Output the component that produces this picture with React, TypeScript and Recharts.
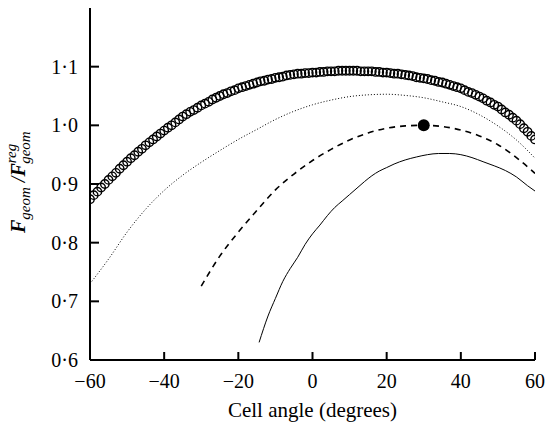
import { ComposedChart, Line, Scatter, XAxis, YAxis } from "recharts"

const FONT = '"Liberation Serif", "Times New Roman", serif'

const xTicks = [-60, -40, -20, 0, 20, 40, 60]
const yTicks = [0.6, 0.7, 0.8, 0.9, 1.0, 1.1]

// open circles, one every degree from -60 to 60
const circleStart = -60
const circleValues = [
  0.874, 0.881, 0.887, 0.894, 0.9, 0.907,
  0.913, 0.919, 0.926, 0.932, 0.938,
  0.944, 0.949, 0.955, 0.96, 0.966,
  0.971, 0.976, 0.981, 0.986, 0.991,
  0.996, 1.0, 1.005, 1.01, 1.015,
  1.019, 1.023, 1.026, 1.03, 1.034,
  1.037, 1.04, 1.044, 1.047, 1.05,
  1.053, 1.055, 1.058, 1.06, 1.063,
  1.065, 1.067, 1.069, 1.071, 1.073,
  1.075, 1.076, 1.078, 1.079, 1.081,
  1.082, 1.083, 1.085, 1.086, 1.087,
  1.088, 1.088, 1.089, 1.089, 1.09,
  1.09, 1.091, 1.091, 1.092, 1.092,
  1.092, 1.093, 1.093, 1.093, 1.093,
  1.093, 1.093, 1.092, 1.092, 1.092,
  1.092, 1.091, 1.091, 1.09, 1.09,
  1.089, 1.088, 1.088, 1.087, 1.086,
  1.085, 1.084, 1.082, 1.081, 1.08,
  1.079, 1.077, 1.076, 1.074, 1.073,
  1.071, 1.069, 1.067, 1.065, 1.063,
  1.06, 1.057, 1.055, 1.052, 1.049,
  1.046, 1.042, 1.039, 1.035, 1.032,
  1.027, 1.022, 1.018, 1.013, 1.008,
  1.002, 0.995, 0.989, 0.982, 0.976,
]

const dottedAngles = [-60, -55, -50, -45, -40, -35, -30, -25, -20, -15, -10, -5, 0, 5, 10, 15, 20, 25, 30, 35, 40, 45, 50, 55, 60]
const dottedValues = [0.73, 0.772, 0.818, 0.857, 0.889, 0.915, 0.937, 0.957, 0.976, 0.993, 1.01, 1.024, 1.035, 1.043, 1.049, 1.052, 1.053, 1.051, 1.047, 1.04, 1.032, 1.018, 0.999, 0.975, 0.944]

const dashedAngles = [-30, -25, -20, -15, -10, -5, 0, 5, 10, 15, 20, 25, 30, 35, 40, 45, 50, 55, 60]
const dashedValues = [0.726, 0.777, 0.818, 0.855, 0.89, 0.917, 0.94, 0.959, 0.975, 0.987, 0.995, 0.999, 1.0, 0.998, 0.992, 0.982, 0.967, 0.945, 0.918]

const solidAngles = [-14.4, -12, -10, -8, -6, -4, -2, 0, 2, 4, 6, 8, 10, 12, 14, 16, 18, 20, 22, 25, 28, 31, 34, 37, 40, 43, 46, 49, 52, 55, 58, 60]
const solidValues = [0.63, 0.675, 0.705, 0.734, 0.756, 0.775, 0.797, 0.815, 0.83, 0.846, 0.86, 0.871, 0.882, 0.893, 0.904, 0.914, 0.922, 0.928, 0.934, 0.941, 0.946, 0.95, 0.952, 0.952, 0.95, 0.945, 0.938, 0.931, 0.923, 0.912, 0.897, 0.888]

const markerAngle = [30]
const markerValue = [1.0]

const zip = (xs: number[], ys: number[]) => xs.map((x, i) => ({ x, y: ys[i] }))

const circleData = circleValues.map((y, i) => ({ x: circleStart + i, y }))
const dottedData = zip(dottedAngles, dottedValues)
const dashedData = zip(dashedAngles, dashedValues)
const solidData = zip(solidAngles, solidValues)
const markerData = zip(markerAngle, markerValue)

const fmtX = (v: number) => (v < 0 ? "\u2212" + Math.abs(v) : String(v))
const fmtY = (v: number) => v.toFixed(1).replace(".", "\u00b7")

// ticks point into the plot, so draw line + label together
function BottomTick(p: any) {
  const base = p.y - 14
  return (
    <g>
      <line x1={p.x} x2={p.x} y1={base} y2={base - 8} stroke="#000" strokeWidth={2} />
      <text x={p.x} y={p.y} dy="0.71em" textAnchor="middle" fontSize={20} fontFamily={FONT} fill="#000">
        {fmtX(p.payload.value)}
      </text>
    </g>
  )
}

function LeftTick(p: any) {
  const base = p.x + 12
  return (
    <g>
      <line x1={base} x2={base + 9} y1={p.y} y2={p.y} stroke="#000" strokeWidth={2} />
      <text x={p.x} y={p.y} dy="0.355em" textAnchor="end" fontSize={20} fontFamily={FONT} fill="#000">
        {fmtY(p.payload.value)}
      </text>
    </g>
  )
}

function RightTick(p: any) {
  return (
    <g>
      <line x1={p.x} x2={p.x - 9} y1={p.y} y2={p.y} stroke="#000" strokeWidth={2} />
    </g>
  )
}

function YLabel() {
  const x = 25
  const y = 233
  return (
    <text x={x} y={y} transform={`rotate(-90, ${x}, ${y})`} fontFamily={FONT} fill="#000" textAnchor="start">
      <tspan fontWeight="bold" fontStyle="italic" fontSize={20}>F</tspan>
      <tspan fontStyle="italic" fontSize={15} dy={5}>geom</tspan>
      <tspan fontStyle="italic" fontSize={20} dy={-5} dx={5}>/</tspan>
      <tspan fontWeight="bold" fontStyle="italic" fontSize={20}>F</tspan>
      <tspan fontStyle="italic" fontSize={15} dy={-9}>reg</tspan>
      <tspan fontStyle="italic" fontSize={15} dx={-20} dy={14}>geom</tspan>
    </text>
  )
}

function XLabel(p: any) {
  const vb = p.viewBox
  return (
    <text x={vb.x + vb.width / 2} y={417} textAnchor="middle" fontSize={21} fontFamily={FONT} fill="#000">
      Cell angle (degrees)
    </text>
  )
}

export default function App() {
  return (
    <div style={{ position: "absolute", left: 0, top: 0, background: "#fff" }}>
      <ComposedChart width={545} height={425} margin={{ top: 8, right: 10, bottom: 0, left: 0 }}>
        <XAxis
          dataKey="x"
          type="number"
          domain={[-60, 60]}
          ticks={xTicks}
          allowDataOverflow
          height={65}
          axisLine={{ stroke: "#000", strokeWidth: 2 }}
          tickLine={false}
          tickSize={0}
          tickMargin={14}
          tick={<BottomTick />}
          label={<XLabel />}
        />
        <XAxis
          xAxisId="top"
          orientation="top"
          dataKey="x"
          type="number"
          domain={[-60, 60]}
          height={0}
          tick={false}
          tickLine={false}
          axisLine={{ stroke: "#000", strokeWidth: 2 }}
        />
        <YAxis
          type="number"
          domain={[0.6, 1.2]}
          ticks={yTicks}
          allowDataOverflow
          width={90}
          axisLine={{ stroke: "#000", strokeWidth: 2 }}
          tickLine={false}
          tickSize={0}
          tickMargin={12}
          tick={<LeftTick />}
          label={<YLabel />}
        />
        <YAxis
          yAxisId="right"
          orientation="right"
          type="number"
          domain={[0.6, 1.2]}
          ticks={yTicks}
          width={0}
          axisLine={{ stroke: "#000", strokeWidth: 2 }}
          tickLine={false}
          tickSize={0}
          tickMargin={0}
          tick={<RightTick />}
        />
        <Line
          data={dottedData}
          dataKey="y"
          type="monotone"
          stroke="#000"
          strokeWidth={1}
          strokeDasharray="1 2"
          dot={false}
          isAnimationActive={false}
        />
        <Line
          data={dashedData}
          dataKey="y"
          type="monotone"
          stroke="#000"
          strokeWidth={1.6}
          strokeDasharray="6 5"
          dot={false}
          isAnimationActive={false}
        />
        <Line
          data={solidData}
          dataKey="y"
          type="monotone"
          stroke="#000"
          strokeWidth={1}
          dot={false}
          isAnimationActive={false}
        />
        <Line
          data={circleData}
          dataKey="y"
          stroke="none"
          dot={{ r: 4.2, stroke: "#000", strokeWidth: 1.4, fill: "none" }}
          isAnimationActive={false}
        />
        <Scatter data={markerData} dataKey="y" fill="#000" shape={(p: any) => <circle cx={p.cx} cy={p.cy} r={6} fill="#000" />} isAnimationActive={false} />
      </ComposedChart>
    </div>
  )
}
